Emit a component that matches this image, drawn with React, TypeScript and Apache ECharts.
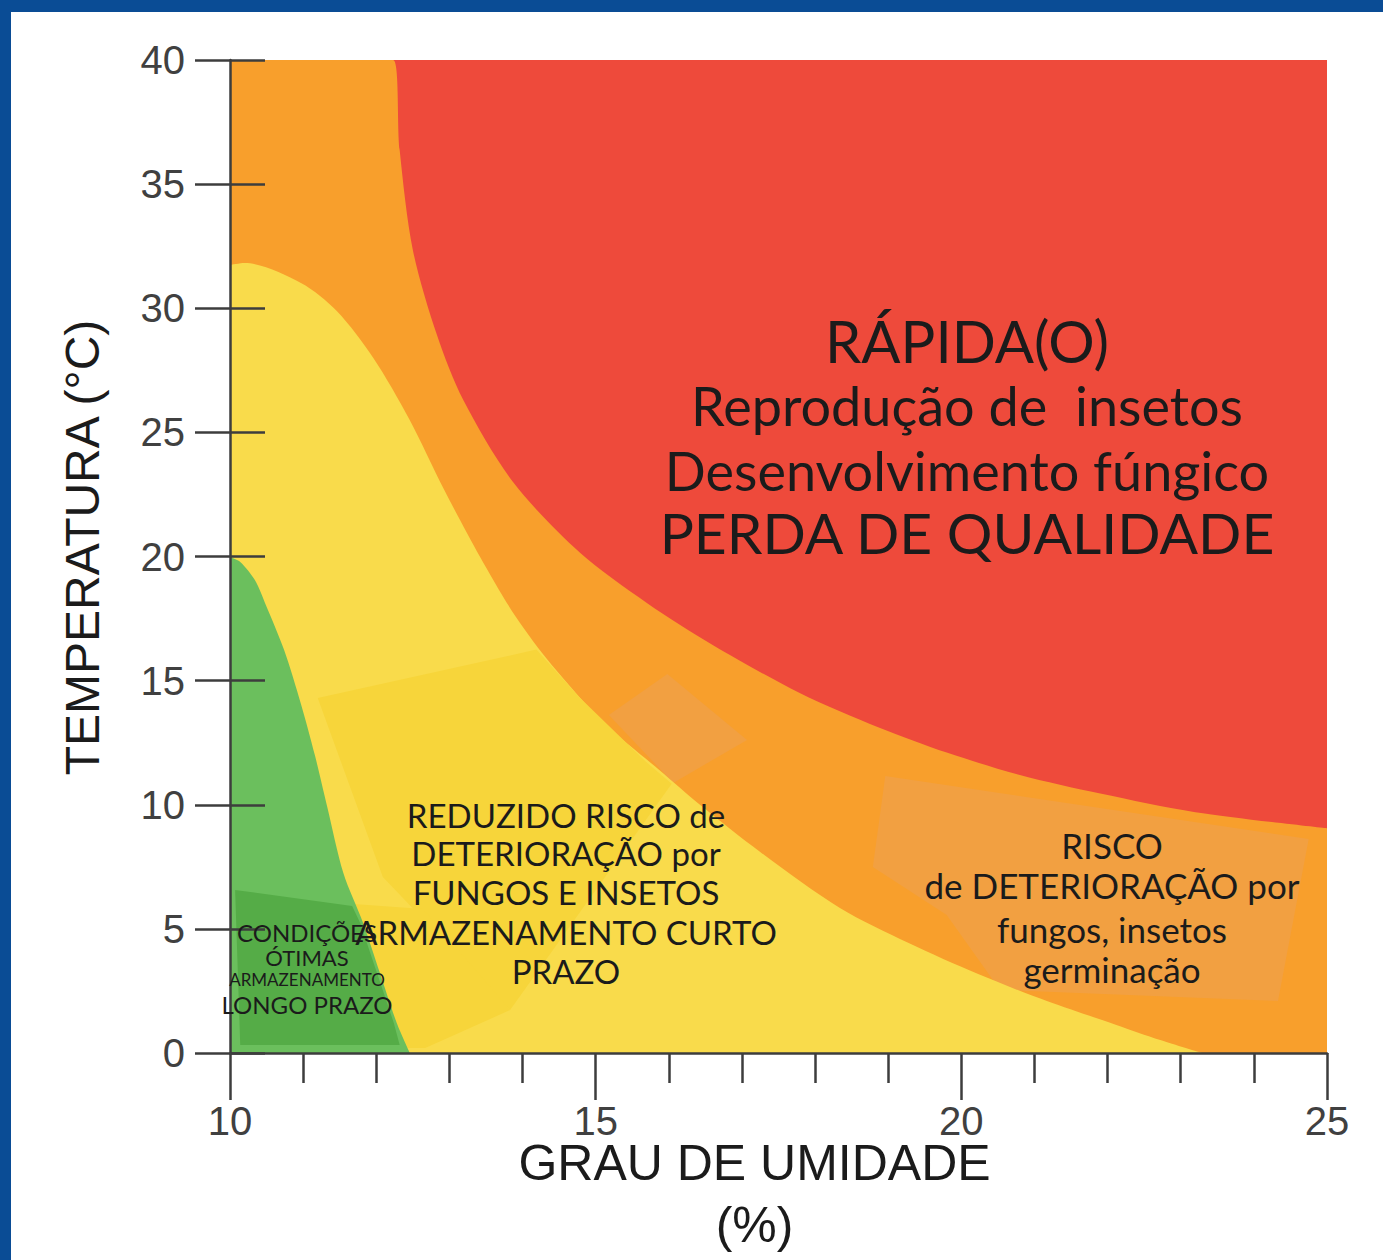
import React, { useEffect, useRef } from "react";
import * as echarts from "echarts";

// Axis ranges / ticks
const xMin = 10;
const xMax = 25;
const xStep = 5;
const yMin = 0;
const yMax = 40;
const yStep = 5;

// Region boundaries: [grau de umidade (%), temperatura (°C)]
const redBoundary: number[][] = [
  [10, 40], [12.23, 40], [12.32, 36.37], [12.5, 32.35], [12.83, 28.92], [13.19, 26.3],
  [13.87, 23.0], [14.79, 20.14], [15.7, 18.13], [16.6, 16.44], [17.79, 14.5],
  [18.88, 13.1], [19.8, 12.1], [20.8, 11.2], [21.9, 10.45], [23.2, 9.7], [25, 9.05],
];
const yellowBoundary: number[][] = [
  [10, 31.74], [10.2, 31.82], [10.97, 31.02], [11.46, 29.89], [11.96, 28.0], [12.45, 25.54],
  [12.93, 22.68], [13.42, 19.98], [13.91, 17.56], [14.4, 15.63], [15.13, 13.25],
  [15.87, 11.4], [16.43, 9.99], [17.25, 8.1], [18.34, 5.84], [19.28, 4.43],
  [20.23, 3.18], [21.17, 2.09], [22.12, 1.13], [22.72, 0.52], [23.29, 0],
];
const greenBoundary: number[][] = [
  [10, 19.98], [10.14, 19.78], [10.34, 19.05], [10.49, 18.05], [10.74, 16.23],
  [10.97, 14.06], [11.16, 12.0], [11.33, 9.91], [11.55, 7.25], [11.82, 5.24],
  [12.05, 3.22], [12.28, 1.21], [12.46, 0],
];

// Text background patches (data coordinates)
const orangeDiamond: number[][] = [[15.98, 15.27], [17.07, 12.61], [16.06, 10.88], [15.18, 13.62]];
const orangeRiscoPatch: number[][] = [
  [18.96, 11.16], [24.75, 8.62], [24.33, 2.09], [20.53, 2.54], [19.8, 5.56], [18.79, 7.49],
];
const yellowPatchBig: number[][] = [
  [11.2, 14.3], [14.19, 16.25], [14.77, 14.35], [15.68, 11.75], [16.04, 10.85], [13.83, 1.73], [12.09, 7.09],
];
const yellowPatchSmall: number[][] = [
  [11.5, 6.04], [12.64, 5.8], [13.83, 1.73], [12.67, 0.2], [12.19, 0.2],
];
const greenPatch: number[][] = [
  [10.07, 6.57], [11.67, 5.92], [11.78, 5.24], [12.01, 3.22], [12.24, 1.21], [12.32, 0.32], [10.14, 0.32],
];

const titleLines = ["RÁPIDA(O)", "Reprodução de  insetos", "Desenvolvimento fúngico", "PERDA DE QUALIDADE"];
const reduzidoLines = ["REDUZIDO RISCO de", "DETERIORAÇÃO por", "FUNGOS E INSETOS", "ARMAZENAMENTO CURTO", "PRAZO"];
const riscoLines = ["RISCO", "de DETERIORAÇÃO por", "fungos, insetos", "germinação"];
const otimasLines = ["CONDIÇÕES", "ÓTIMAS", "ARMAZENAMENTO", "LONGO PRAZO"];

const COLORS = {
  red: "#EE4A3B",
  orange: "#F89F2C",
  orangeLight: "#F2A041",
  yellow: "#F9DB4B",
  yellowDark: "#F7D53A",
  green: "#6BBF5D",
  greenDark: "#55AC47",
  frame: "#0A4C95",
  axis: "#3d3d3d",
  text: "#1b1b1b",
};

const REGION_FONT = "Lato, 'Noto Sans', sans-serif";
const AXIS_FONT = "'Liberation Sans', Arial, sans-serif";

function areaSeries(data: number[][], color: string, z: number) {
  return {
    type: "line",
    data,
    smooth: 0.3,
    symbol: "none",
    showSymbol: false,
    silent: true,
    clip: true,
    z,
    lineStyle: { width: 0, color },
    areaStyle: { color, opacity: 1, origin: "start" },
  };
}

function polySeries(poly: number[][], color: string, z: number) {
  return {
    type: "custom",
    coordinateSystem: "cartesian2d",
    silent: true,
    clip: true,
    z,
    data: [poly[0]],
    renderItem: (_params: any, api: any) => ({
      type: "polygon",
      shape: { points: poly.map((p) => api.coord(p)) },
      style: { fill: color },
    }),
  };
}

function textEl(text: string, x: number, y: number, size: number, family: string) {
  return {
    type: "text",
    x,
    y,
    z: 100,
    silent: true,
    style: {
      text,
      font: `${size}px ${family}`,
      fill: COLORS.text,
      align: "center",
      verticalAlign: "middle",
    },
  };
}

export default function App() {
  const ref = useRef<HTMLDivElement>(null);

  useEffect(() => {
    if (!ref.current) return;
    const chart = echarts.init(ref.current, undefined, { renderer: "svg" });

    const graphics: any[] = [
      { type: "rect", shape: { x: 0, y: 0, width: 1383, height: 12 }, style: { fill: COLORS.frame }, z: 200, silent: true },
      { type: "rect", shape: { x: 0, y: 0, width: 11, height: 1260 }, style: { fill: COLORS.frame }, z: 200, silent: true },
    ];
    const titleY = [340, 405, 470, 532];
    const titleS = [58, 54, 54, 57];
    titleLines.forEach((t, i) => graphics.push(textEl(t, 967, titleY[i], titleS[i], REGION_FONT)));
    const redY = [815, 853, 892, 932, 971];
    reduzidoLines.forEach((t, i) => graphics.push(textEl(t, 566, redY[i], 33, REGION_FONT)));
    const riscoY = [845, 885, 929, 969];
    riscoLines.forEach((t, i) => graphics.push(textEl(t, 1112, riscoY[i], 35, REGION_FONT)));
    const otY = [932, 957, 979, 1004];
    const otS = [24, 22, 17, 24];
    otimasLines.forEach((t, i) => graphics.push(textEl(t, 307, otY[i], otS[i], REGION_FONT)));

    const axisLineStyle = { color: COLORS.axis, width: 2.5 };

    chart.setOption({
      animation: false,
      backgroundColor: "#ffffff",
      grid: {
        left: 230,
        top: 60,
        right: 56,
        bottom: 207,
        outerBoundsMode: "none",
        containLabel: false,
        show: true,
        backgroundColor: COLORS.red,
        borderWidth: 0,
      },
      xAxis: {
        type: "value",
        min: xMin,
        max: xMax,
        interval: xStep,
        z: 10,
        name: "GRAU DE UMIDADE\n(%)",
        nameLocation: "middle",
        nameGap: 79,
        nameMoveOverlap: false,
        nameTextStyle: {
          fontFamily: AXIS_FONT,
          fontSize: 50,
          color: COLORS.text,
          lineHeight: 62,
          padding: [0, 48, 0, 0],
        },
        axisLine: { show: true, lineStyle: axisLineStyle },
        axisTick: { show: true, length: 47, lineStyle: axisLineStyle },
        minorTick: { show: true, splitNumber: 5, length: 30, lineStyle: axisLineStyle },
        axisLabel: { margin: 48, fontFamily: AXIS_FONT, fontSize: 40, color: "#404040" },
        splitLine: { show: false },
        minorSplitLine: { show: false },
      },
      yAxis: [
        {
          type: "value",
          min: yMin,
          max: yMax,
          interval: yStep,
          z: 10,
          name: "TEMPERATURA (°C)",
          nameLocation: "middle",
          nameGap: 124,
          nameRotate: 90,
          nameTextStyle: { fontFamily: AXIS_FONT, fontSize: 48, color: COLORS.text, padding: [0, 0, 0, 18] },
          axisLine: { show: true, lineStyle: axisLineStyle },
          axisTick: { show: true, length: 35, lineStyle: axisLineStyle },
          axisLabel: { margin: 45, fontFamily: AXIS_FONT, fontSize: 40, color: "#404040" },
          splitLine: { show: false },
        },
        {
          type: "value",
          min: yMin,
          max: yMax,
          interval: yStep,
          position: "left",
          offset: 0,
          z: 10,
          axisLine: { show: false },
          axisTick: { show: true, inside: true, length: 35, lineStyle: axisLineStyle },
          axisLabel: { show: false },
          splitLine: { show: false },
        },
      ],
      graphic: graphics,
      series: [
        areaSeries(redBoundary, COLORS.orange, 1),
        polySeries(orangeDiamond, COLORS.orangeLight, 2),
        polySeries(orangeRiscoPatch, COLORS.orangeLight, 2),
        areaSeries(yellowBoundary, COLORS.yellow, 3),
        polySeries(yellowPatchBig, COLORS.yellowDark, 4),
        polySeries(yellowPatchSmall, COLORS.yellowDark, 4),
        areaSeries(greenBoundary, COLORS.green, 5),
        polySeries(greenPatch, COLORS.greenDark, 6),
      ],
    });

    return () => chart.dispose();
  }, []);

  return (
    <div
      ref={ref}
      style={{ position: "absolute", left: 0, top: 0, width: 1383, height: 1260 }}
    />
  );
}
